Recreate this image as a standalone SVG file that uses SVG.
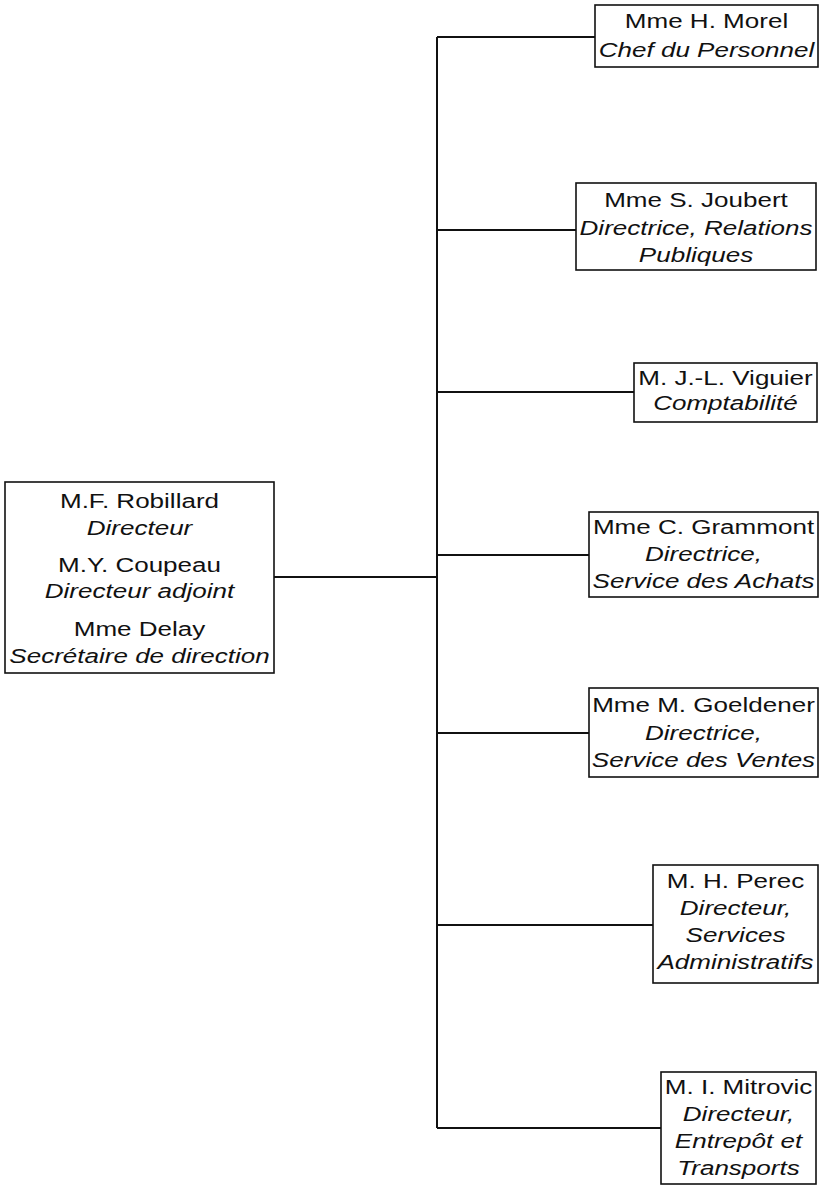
<svg xmlns="http://www.w3.org/2000/svg" width="822" height="1186" viewBox="0 0 822 1186">
<style>
.box{fill:#fff;stroke:#111;stroke-width:1.6}
.ln{fill:none;stroke:#111;stroke-width:2}
text{font-family:"Liberation Sans",Arial,sans-serif;font-size:21px;fill:#111;text-anchor:middle}
.t{font-style:italic}
</style>
<rect width="822" height="1186" fill="#fff"/>
<g id="connectors">
<path class="ln" d="M437 37V1128"/>
<path class="ln" d="M274 577H437"/>
<path class="ln" d="M437 37H595"/>
<path class="ln" d="M437 230H576"/>
<path class="ln" d="M437 392H634"/>
<path class="ln" d="M437 555H589"/>
<path class="ln" d="M437 733H589"/>
<path class="ln" d="M437 925H653"/>
<path class="ln" d="M437 1128H661"/>
</g>
<g id="direction">
<rect class="box" x="5" y="482" width="269" height="191"/>
<g transform="translate(139.5 0) scale(1.24 1)">
<text y="508">M.F. Robillard</text>
<text class="t" y="535">Directeur</text>
<text y="572">M.Y. Coupeau</text>
<text class="t" y="598">Directeur adjoint</text>
<text y="636">Mme Delay</text>
<text class="t" y="663">Secrétaire de direction</text>
</g>
</g>
<g id="morel">
<rect class="box" x="595" y="5" width="223" height="62"/>
<g transform="translate(706.5 0) scale(1.24 1)">
<text y="28">Mme H. Morel</text>
<text class="t" y="57">Chef du Personnel</text>
</g>
</g>
<g id="joubert">
<rect class="box" x="576" y="183" width="240" height="87"/>
<g transform="translate(696 0) scale(1.24 1)">
<text y="207">Mme S. Joubert</text>
<text class="t" y="235">Directrice, Relations</text>
<text class="t" y="262">Publiques</text>
</g>
</g>
<g id="viguier">
<rect class="box" x="634" y="363" width="183" height="59"/>
<g transform="translate(725.5 0) scale(1.24 1)">
<text y="385">M. J.-L. Viguier</text>
<text class="t" y="410">Comptabilité</text>
</g>
</g>
<g id="grammont">
<rect class="box" x="589" y="512" width="229" height="85"/>
<g transform="translate(703.5 0) scale(1.24 1)">
<text y="534">Mme C. Grammont</text>
<text class="t" y="561">Directrice,</text>
<text class="t" y="588">Service des Achats</text>
</g>
</g>
<g id="goeldener">
<rect class="box" x="589" y="688" width="229" height="89"/>
<g transform="translate(703.5 0) scale(1.24 1)">
<text y="712">Mme M. Goeldener</text>
<text class="t" y="740">Directrice,</text>
<text class="t" y="767">Service des Ventes</text>
</g>
</g>
<g id="perec">
<rect class="box" x="653" y="865" width="165" height="118"/>
<g transform="translate(735.5 0) scale(1.24 1)">
<text y="888">M. H. Perec</text>
<text class="t" y="915">Directeur,</text>
<text class="t" y="942">Services</text>
<text class="t" y="969">Administratifs</text>
</g>
</g>
<g id="mitrovic">
<rect class="box" x="661" y="1072" width="155" height="112"/>
<g transform="translate(738.5 0) scale(1.24 1)">
<text y="1094">M. I. Mitrovic</text>
<text class="t" y="1121">Directeur,</text>
<text class="t" y="1148">Entrepôt et</text>
<text class="t" y="1175">Transports</text>
</g>
</g>
</svg>
